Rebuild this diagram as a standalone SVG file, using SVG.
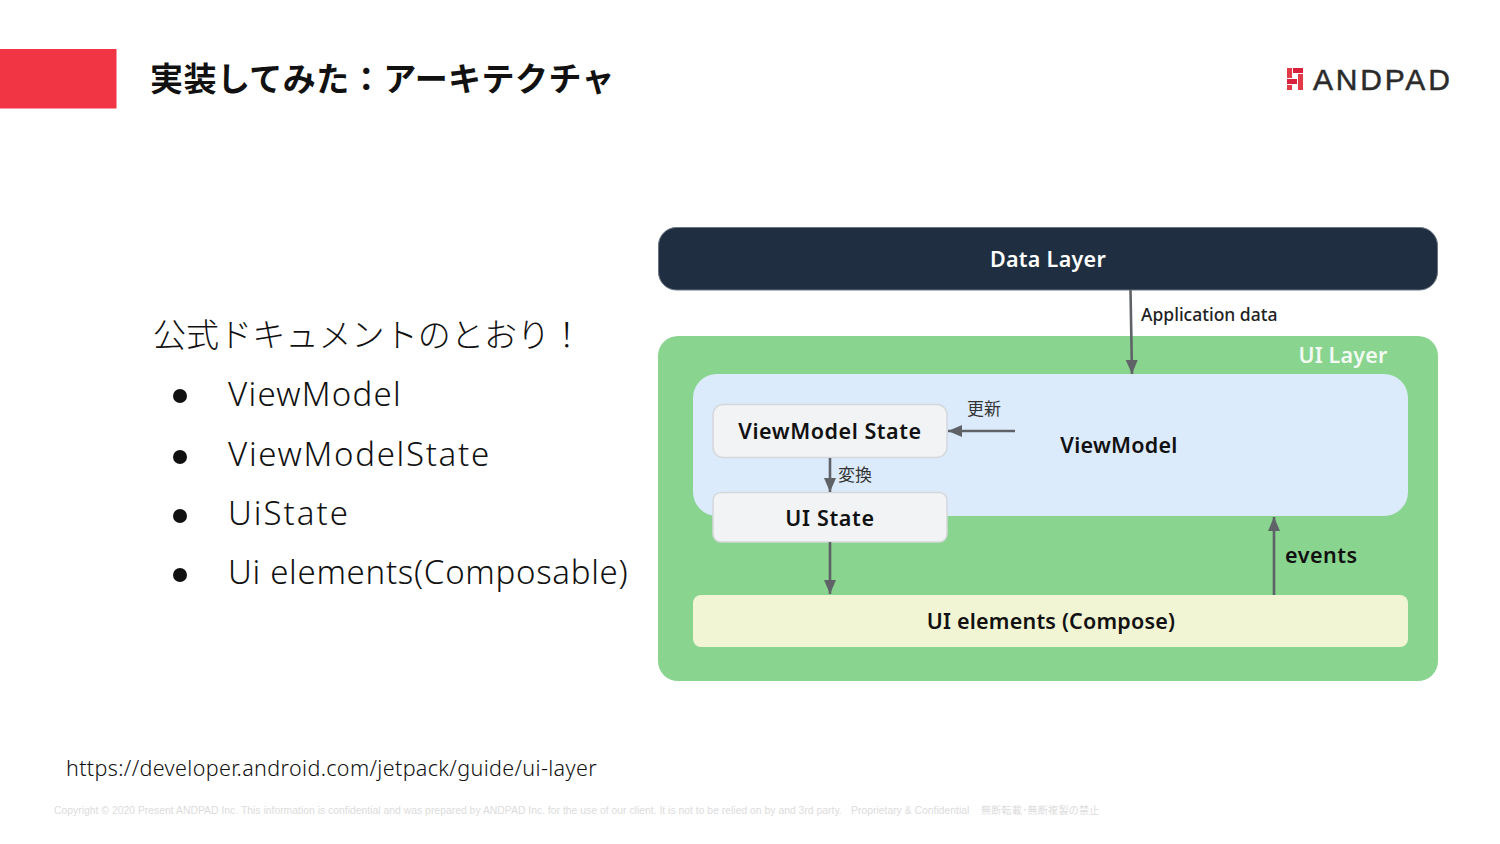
<svg xmlns="http://www.w3.org/2000/svg" width="1500" height="844" viewBox="0 0 1500 844">
<style>
text{font-family:"Noto Sans","Noto Sans CJK JP",sans-serif}
.t{font-family:"Noto Sans CJK JP","Noto Sans",sans-serif;font-size:33px;font-weight:700;fill:#111}
.b{font-size:33px;fill:#111;font-weight:300}
.n{font-size:21.5px;font-weight:600;fill:#111;text-anchor:middle}
.s{font-family:"Noto Sans CJK JP",sans-serif;font-size:17px;fill:#333}
.c{stroke:#5f6368;stroke-width:2.6;fill:none;marker-end:url(#a)}
.st{fill:#f1f3f4;stroke:#d5d8db;stroke-width:1.5}
.f{font-family:"Liberation Sans","Noto Sans CJK JP",sans-serif;font-size:10.4px;fill:#dcdcdc}
</style>
<defs><marker id="a" markerUnits="userSpaceOnUse" markerWidth="15" markerHeight="13" refX="14" refY="6" orient="auto"><path d="M0 0L14 6L0 12z" fill="#5f6368"/></marker></defs>
<rect width="1500" height="844" fill="#fff"/>
<g id="header">
<rect x="0" y="49" width="116.500" height="59.500" fill="#f13545"/>
<text class="t" x="150" y="91" letter-spacing=".45">実装してみた：アーキテクチャ</text>
</g>
<g id="logo">
<g fill="#e23a46"><rect x="1287" y="68" width="5" height="10"/><rect x="1287" y="85" width="5" height="5"/><rect x="1298" y="74" width="5" height="16"/></g>
<g fill="#d81f3c"><rect x="1293" y="68" width="10" height="5"/><rect x="1287" y="79" width="10" height="5"/></g>
<text x="1313" y="90" font-size="30" letter-spacing="2.8" fill="#2b2b2b" stroke="#2b2b2b" stroke-width=".5" style="font-family:'Liberation Sans',sans-serif">ANDPAD</text>
</g>
<g id="list">
<text class="b" x="153" y="347" style="font-family:'Noto Sans CJK JP',sans-serif" letter-spacing=".1">公式ドキュメントのとおり！</text>
<g fill="#111"><circle cx="180" cy="396" r="7"/><circle cx="180" cy="457" r="7"/><circle cx="180" cy="516" r="7"/><circle cx="180" cy="575" r="7"/></g>
<text class="b" x="228" y="406" letter-spacing="1.25">ViewModel</text>
<text class="b" x="228" y="466" letter-spacing="1.7">ViewModelState</text>
<text class="b" x="228" y="525" letter-spacing="2">UiState</text>
<text class="b" x="228" y="584" letter-spacing=".7">Ui elements(Composable)</text>
</g>
<g id="data-layer">
<rect x="658.500" y="227.500" width="779" height="62.500" rx="18" fill="#1f2f41" stroke="#6b7580"/>
<text x="1048" y="267" class="n" style="fill:#fff" letter-spacing=".3">Data Layer</text>
</g>
<g id="ui-layer">
<rect x="658" y="336" width="780" height="345" rx="20" fill="#89d48f"/>
<text x="1343" y="363" class="n" style="fill:#f3faf3" letter-spacing=".2">UI Layer</text>
</g>
<g id="viewmodel">
<rect x="693" y="374" width="715" height="142" rx="24" fill="#dcebfc"/>
<text x="1119" y="453" class="n" letter-spacing=".25">ViewModel</text>
</g>
<g id="viewmodel-state">
<rect class="st" x="713" y="404.500" width="234" height="53" rx="10"/>
<text x="830" y="439" class="n" letter-spacing=".55">ViewModel State</text>
</g>
<g id="ui-state">
<rect class="st" x="713" y="492.500" width="234" height="49.500" rx="8"/>
<text x="830" y="525.500" class="n" letter-spacing=".7">UI State</text>
</g>
<g id="ui-elements">
<rect x="693" y="595" width="715" height="52" rx="8" fill="#f1f5d4"/>
<text x="1051" y="629" class="n" letter-spacing=".2">UI elements (Compose)</text>
</g>
<g id="connectors">
<path class="c" d="M1130.500 290L1132 374"/>
<path class="c" d="M1015 431H948"/>
<path class="c" d="M830 458V492"/>
<path class="c" d="M830 542V594"/>
<path class="c" d="M1274 595V517"/>
</g>
<g id="labels">
<text x="1141" y="320.500" font-size="17.500" font-weight="500" fill="#222">Application data</text>
<text class="s" x="967" y="415">更新</text>
<text class="s" x="838" y="481">変換</text>
<text x="1285" y="563" font-size="21.500" font-weight="600" fill="#111" letter-spacing=".5">events</text>
</g>
<g id="footer">
<text x="66" y="776" font-size="21.500" fill="#111" font-weight="300" letter-spacing=".37">https://developer.android.com/jetpack/guide/ui-layer</text>
<text class="f" x="54" y="814">Copyright © 2020 Present ANDPAD Inc. This information is confidential and was prepared by ANDPAD Inc. for the use of our client. It is not to be relied on by and 3rd party.</text>
<text class="f" x="851" y="814">Proprietary &amp; Confidential</text>
<text class="f" x="981" y="814" style="font-size:10px" letter-spacing=".3">無断転載･無断複製の禁止</text>
</g>
</svg>
